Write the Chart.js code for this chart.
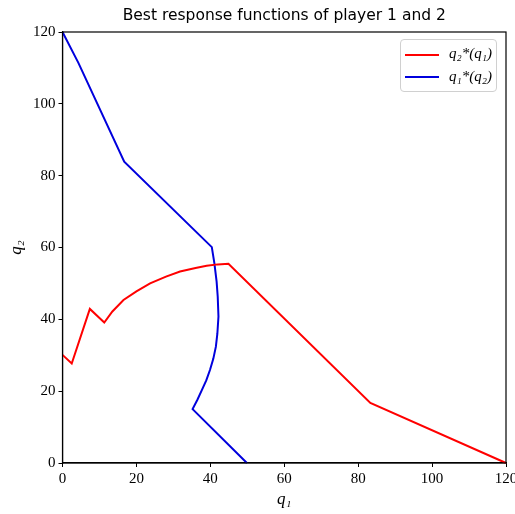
<!DOCTYPE html>
<html>
<head>
<meta charset="utf-8">
<script src="https://cdn.jsdelivr.net/npm/chart.js@4/dist/chart.umd.min.js"></script>
<style>
    html, body { margin: 0; padding: 0; background: #fff; }
    #wrap { position: relative; width: 515px; height: 514px; }
    #legend {
        position: absolute; left: 400px; top: 39px; width: 95px; height: 51px;
        border: 1px solid #d0d0d0; border-radius: 4px; background: rgba(255,255,255,0.8);
        font-family: "Liberation Serif", "DejaVu Serif", serif; font-style: italic; font-size: 15px;
    }
    .item { position: absolute; left: 4px; height: 20px; line-height: 20px; white-space: nowrap; }
    .swatch { display: inline-block; width: 34px; height: 0; border-top: 2px solid; vertical-align: middle; margin-right: 10px; }
</style>
</head>
<body>
<div id="wrap">
    <canvas id="brChart" width="515" height="514"></canvas>
    <div id="legend"></div>
</div>
<script>
// best response of player 2 to q1 (red)
const redX = [0, 2.5, 7.4, 11.3, 13.5, 16.5, 20, 23.7, 28, 31.8, 36, 39, 42, 44.9, 83.3, 120];
const redY = [30.1, 27.7, 42.9, 39.1, 42.2, 45.4, 47.8, 50.0, 51.9, 53.3, 54.3, 54.9, 55.3, 55.5, 16.7, 0];

// best response of player 1 to q2 (blue)
const blueX = [0, 4.3, 16.7, 40.4, 41.1, 41.7, 42.0, 42.2, 41.9, 41.5, 40.8, 39.9, 38.9, 37.7, 36.5, 35.2, 49.9];
const blueY = [120, 111.4, 83.9, 60.1, 55.6, 50.5, 46.3, 40.8, 36.0, 32.4, 29.0, 25.9, 23.0, 20.3, 17.6, 15.0, 0];

const seriesLabels = ['q\u2082*(q\u2081)', 'q\u2081*(q\u2082)'];
const seriesColors = ['#ff0000', '#0000dd'];
const tickValues = [0, 20, 40, 60, 80, 100, 120];

const toPoints = (xs, ys) => xs.map((x, i) => ({ x: x, y: ys[i] }));

const serif = 'Liberation Serif, DejaVu Serif, serif';

// black frame around the plot, like matplotlib spines
const framePlugin = {
    id: 'frame',
    afterDraw(chart) {
        const a = chart.chartArea;
        const ctx = chart.ctx;
        ctx.save();
        ctx.strokeStyle = '#000';
        ctx.lineWidth = 1.2;
        ctx.strokeRect(a.left, a.top, a.right - a.left, a.bottom - a.top);
        ctx.restore();
    }
};

const axisCommon = {
    type: 'linear',
    min: 0,
    max: 120,
    afterBuildTicks: (scale) => { scale.ticks = tickValues.map(v => ({ value: v })); },
    grid: { display: true, drawOnChartArea: false, drawTicks: true, tickLength: 4, color: '#000' },
    border: { display: true, color: '#000', width: 1.2 },
    ticks: { color: '#000', font: { family: serif, size: 15 }, padding: 3 }
};

const ctx = document.getElementById('brChart').getContext('2d');
const brChart = new Chart(ctx, {
    type: 'scatter',
    data: {
        datasets: [
            {
                label: seriesLabels[0],
                data: toPoints(redX, redY),
                borderColor: seriesColors[0],
                backgroundColor: seriesColors[0],
                showLine: true,
                borderWidth: 2,
                pointRadius: 0,
                clip: false
            },
            {
                label: seriesLabels[1],
                data: toPoints(blueX, blueY),
                borderColor: seriesColors[1],
                backgroundColor: seriesColors[1],
                showLine: true,
                borderWidth: 2,
                pointRadius: 0,
                clip: false
            }
        ]
    },
    options: {
        responsive: false,
        animation: false,
        layout: { padding: { left: 0, right: 9, top: 0, bottom: 0 } },
        scales: {
            x: Object.assign({}, axisCommon, {
                position: 'bottom',
                afterFit: (scale) => { scale.height = 51; scale.paddingRight = 0; scale.paddingLeft = 0; },
                title: { display: true, text: 'q\u2081', color: '#000', font: { family: serif, size: 17, style: 'italic' }, padding: { top: 0, bottom: 4 } }
            }),
            y: Object.assign({}, axisCommon, {
                position: 'left',
                afterFit: (scale) => { scale.width = 62.5; scale.paddingTop = 0; },
                title: { display: true, text: 'q\u2082', color: '#000', font: { family: serif, size: 17, style: 'italic' }, padding: { top: 6, bottom: 0 } }
            })
        },
        plugins: {
            legend: { display: false },
            tooltip: { enabled: false },
            title: {
                display: true,
                fullSize: false,
                text: 'Best response functions of player 1 and 2',
                color: '#000',
                font: { family: 'DejaVu Sans, sans-serif', size: 15.5, weight: 'normal' },
                padding: { top: 7, bottom: 6.4 }
            }
        }
    },
    plugins: [framePlugin]
});

// legend inside the axes, upper right
const legendBox = document.getElementById('legend');
brChart.data.datasets.forEach((ds, i) => {
    const item = document.createElement('div');
    item.className = 'item';
    item.style.top = (3 + i * 22.5) + 'px';
    item.innerHTML = '<span class="swatch" style="border-color:' + ds.borderColor + '"></span>' + ds.label;
    legendBox.appendChild(item);
});
</script>
</body>
</html>
